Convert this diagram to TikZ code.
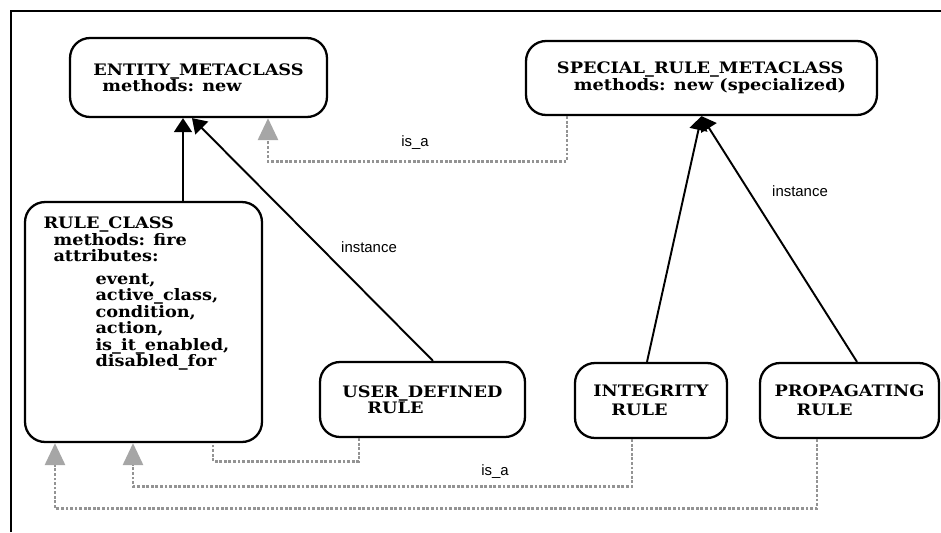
\documentclass[tikz,border=0pt]{standalone}
\usepackage{fontspec}
\setmainfont{DejaVu Serif}
\newfontfamily\clsfont{DejaVu Serif}[FakeStretch=1.12]
\newfontfamily\lblfont{Liberation Sans}
\usetikzlibrary{arrows.meta,calc}

\tikzset{
  cls/.style={draw, line width=1.3pt, rounded corners=0.4cm, align=left, inner sep=0pt,
    font=\clsfont\bfseries\fontsize{9}{9.4}\selectfont},
  inst/.style={line width=1.1pt, -{Triangle[length=0.28cm,width=0.36cm]}},
  isa/.style={draw=gray!85, densely dotted, line width=1.6pt},
  isatip/.style={-{Triangle[length=0.44cm,width=0.4cm,color=gray!70]}},
  lbl/.style={font=\lblfont\fontsize{8.5}{9}\selectfont}
}

\begin{document}
\begin{tikzpicture}[x=0.02cm, y=-0.02cm]
  \useasboundingbox (0,0) rectangle (941,532);
  \draw[line width=1.2pt] (11,532) -- (11,11) -- (941,11);

  \node[cls, minimum width=5.14cm, minimum height=1.58cm] (entity) at (198.5,77.5)
    {ENTITY\_METACLASS\\\hspace*{0.18cm}methods: new};
  \node[cls, minimum width=7.02cm, minimum height=1.48cm] (special) at (701.5,78)
    {SPECIAL\_RULE\_METACLASS\\\hspace*{0.34cm}methods: new (specialized)};
  \node[cls, minimum width=4.74cm, minimum height=4.8cm] (ruleclass) at (143.5,322)
    {\begin{minipage}[c][4.2cm][t]{4.0cm}
      RULE\_CLASS\\
      \hspace*{0.2cm}methods: fire\\
      \hspace*{0.2cm}attributes:\\[3.4pt]
      \hspace*{1.04cm}event,\\
      \hspace*{1.04cm}active\_class,\\
      \hspace*{1.04cm}condition,\\
      \hspace*{1.04cm}action,\\
      \hspace*{1.04cm}is\_it\_enabled,\\
      \hspace*{1.04cm}disabled\_for
    \end{minipage}};
  \node[cls, minimum width=4.1cm, minimum height=1.5cm] (userdef) at (422.5,399.5)
    {USER\_DEFINED\\\hspace*{0.5cm}RULE};
  \node[cls, minimum width=3.04cm, minimum height=1.5cm] (integrity) at (651,400.5)
    {INTEGRITY\\[1.5pt]\hspace*{0.36cm}RULE};
  \node[cls, minimum width=3.58cm, minimum height=1.5cm] (propagating) at (849.5,400.5)
    {PROPAGATING\\[1.5pt]\hspace*{0.44cm}RULE};

  \node[lbl] (isatop) at (415,143) {is\_a};
  \node[lbl] (isabot) at (495,472) {is\_a};
  \node[lbl] (instleft) at (369,247) {instance};
  \node[lbl] (instright) at (800,191) {instance};

  % instance links
  \draw[inst] ($(ruleclass.north)+(39.5,0)$) -- ($(entity.south)+(-15.5,0)$);
  \draw[inst] ($(userdef.north)+(10.5,0)$) -- ($(entity.south)+(-6.5,0)$);
  \draw[inst] ($(integrity.north)+(-4,0)$) -- (special.south);
  \draw[inst] ($(propagating.north)+(7.5,0)$) -- (special.south);

  % is_a links
  \draw[isa,isatip] ($(special.south)+(-134.5,0)$) -- ++(0,45) -| ($(entity.south)+(69.5,0)$);
  \draw[isa] ($(userdef.south)+(-63.5,0)$) -- ++(0,23) -| ($(ruleclass.south)+(69.5,0)$);
  \draw[isa,isatip] ($(integrity.south)+(-19,0)$) -- ++(0,47) -| ($(ruleclass.south)+(-10.5,0)$);
  \draw[isa,isatip] ($(propagating.south)+(-32.5,0)$) -- ++(0,69) -| ($(ruleclass.south)+(-88.5,0)$);
\end{tikzpicture}
\end{document}
